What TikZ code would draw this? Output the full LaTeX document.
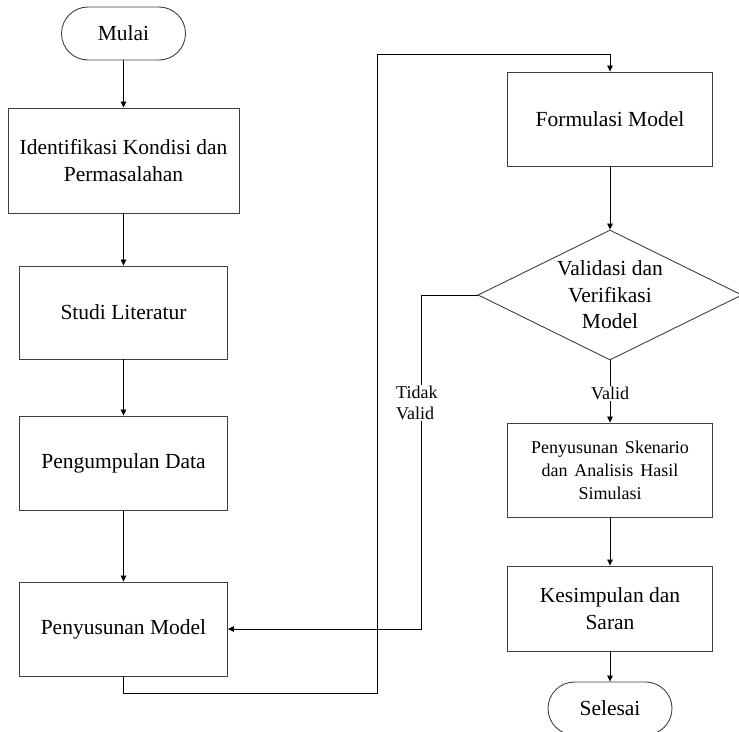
\documentclass[tikz,border=0pt]{standalone}
\usepackage{fontspec}
\setmainfont{Liberation Serif}
\usetikzlibrary{shapes.geometric,shapes.misc,arrows.meta}
\newcommand{\widespace}{\spaceskip=7pt\relax}
\begin{document}
\begin{tikzpicture}[x=1pt,y=-1pt,
  stepbox/.style={draw=black!75,line width=0.9pt,rectangle,inner sep=0pt,align=center,
    font=\fontsize{21.5}{26.5}\selectfont},
  smallbox/.style={stepbox,font=\fontsize{18}{23}\selectfont\widespace},
  terminal/.style={draw=black!75,line width=0.9pt,rounded rectangle,inner sep=0pt,
    minimum width=124pt,minimum height=53pt,font=\fontsize{21.5}{26.5}\selectfont},
  decision/.style={draw=black!75,line width=0.9pt,diamond,aspect=2,inner sep=0pt,
    minimum width=264pt,minimum height=130pt,align=center,font=\fontsize{21.5}{26.5}\selectfont},
  flow/.style={draw=black,line width=0.8pt,-{Triangle[length=6pt,width=5.5pt]}},
  lbl/.style={fill=white,inner sep=1pt,align=left,font=\fontsize{18}{21}\selectfont}]
\useasboundingbox (0,0) rectangle (739,731);

% left column
\node[terminal] (mulai) at (123.5,33.5) {Mulai};
\node[stepbox,minimum width=231pt,minimum height=105pt] (ident) at (123.5,160.5)
  {Identifikasi Kondisi dan\\Permasalahan};
\node[stepbox,minimum width=208pt,minimum height=93pt] (studi) at (123.5,312.5) {Studi Literatur};
\node[stepbox,minimum width=208pt,minimum height=94pt] (data) at (123.5,463) {Pengumpulan Data};
\node[stepbox,minimum width=208pt,minimum height=94pt] (model) at (123.5,629) {Penyusunan Model};

% right column
\node[stepbox,minimum width=205pt,minimum height=94pt] (formul) at (610,119) {Formulasi Model};
\node[decision] (valid) at (610,295) {Validasi dan\\Verifikasi\\Model};
\node[smallbox,minimum width=205pt,minimum height=94pt] (skenario) at (610,470)
  {Penyusunan Skenario\\dan Analisis Hasil\\Simulasi};
\node[stepbox,minimum width=205pt,minimum height=85pt] (simpul) at (610,608.5)
  {Kesimpulan dan\\Saran};
\node[terminal] (selesai) at (610,708.5) {Selesai};

% routing points
\coordinate (down) at (377,693);
\coordinate (up) at (377,54);
\coordinate (back) at (421.5,295);

% connectors
\draw[flow] (mulai) -- (ident);
\draw[flow] (ident) -- (studi);
\draw[flow] (studi) -- (data);
\draw[flow] (data) -- (model);
\draw[flow] (model.south) |- (down) -- (up) -| (formul.north);
\draw[flow] (formul) -- (valid);
\draw[flow] (valid.south) -- (skenario.north);
\draw[flow] (valid.west) -- (back) |- (model.east);
\draw[flow] (skenario) -- (simpul);
\draw[flow] (simpul) -- (selesai);

% branch labels
\node[lbl] (yes) at (610,393.5) {Valid};
\node[lbl,anchor=north west] (no) at (395,385) {Tidak\\Valid};
\end{tikzpicture}
\end{document}
